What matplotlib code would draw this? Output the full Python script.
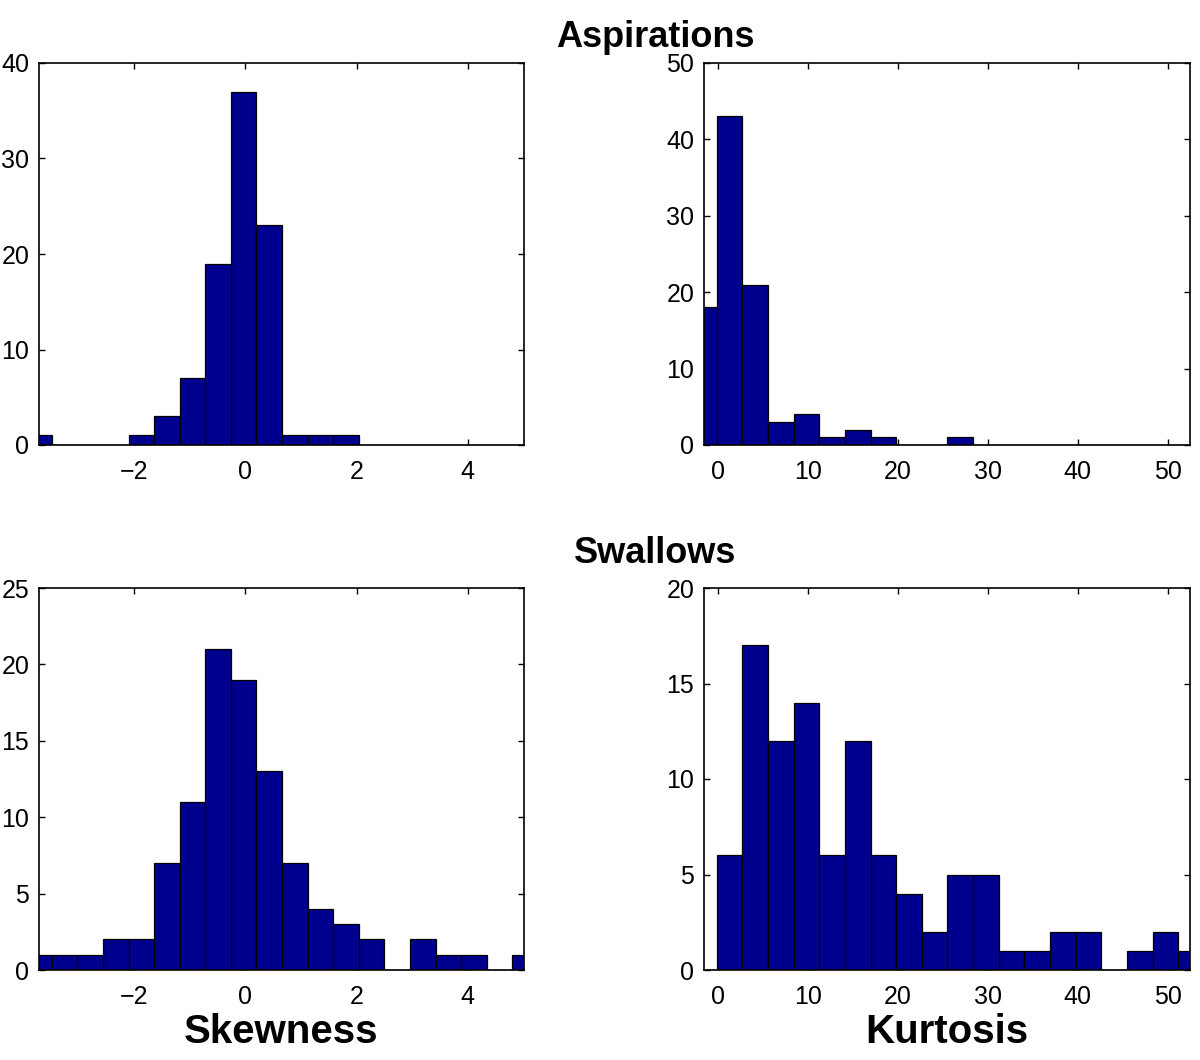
import numpy as np
import matplotlib
matplotlib.use("Agg")
import matplotlib.pyplot as plt

plt.rcParams["font.family"] = ["Liberation Sans", "DejaVu Sans"]

# bin edges (20 bins each)
skew_edges = [-3.94, -3.48, -3.02, -2.56, -2.10, -1.64, -1.18, -0.72, -0.26, 0.20,
              0.66, 1.12, 1.58, 2.04, 2.50, 2.96, 3.42, 3.88, 4.34, 4.80, 5.26]
kurt_edges = [-2.98, -0.13, 2.72, 5.57, 8.42, 11.27, 14.12, 16.97, 19.82, 22.67,
              25.52, 28.37, 31.22, 34.07, 36.92, 39.77, 42.62, 45.47, 48.32, 51.17, 54.02]

# counts per bin
asp_skew = [1, 0, 0, 0, 1, 3, 7, 19, 37, 23, 1, 1, 1, 0, 0, 0, 0, 0, 0, 0]
asp_kurt = [18, 43, 21, 3, 4, 1, 2, 1, 0, 0, 1, 0, 0, 0, 0, 0, 0, 0, 0, 0]
swa_skew = [1, 1, 1, 2, 2, 7, 11, 21, 19, 13, 7, 4, 3, 2, 0, 2, 1, 1, 0, 1]
swa_kurt = [0, 6, 17, 12, 14, 6, 12, 6, 4, 2, 5, 5, 1, 1, 2, 2, 0, 1, 2, 1]

skew_xlim = (-3.71, 5.01)
kurt_xlim = (-1.53, 52.47)
skew_xticks = [-2, 0, 2, 4]
kurt_xticks = [0, 10, 20, 30, 40, 50]

BAR = "#00008F"
W, H = 1200, 1060

fig = plt.figure(figsize=(12, 10.6), dpi=100)


def make_axes(x0, x1, y_top, y_bot):
    return fig.add_axes([x0 / W, 1 - y_bot / H, (x1 - x0) / W, (y_bot - y_top) / H])


def draw_hist(ax, edges, counts, xlim, xticks, ymax, ystep):
    edges = np.asarray(edges)
    ax.bar(edges[:-1], counts, width=np.diff(edges), align="edge",
           color=BAR, edgecolor="black", linewidth=0.9, zorder=2)
    ax.set_xlim(*xlim)
    ax.set_ylim(0, ymax)
    ax.set_xticks(xticks)
    ax.set_yticks(np.arange(0, ymax + 1, ystep))
    ax.tick_params(direction="in", top=True, right=True, length=4, width=1,
                   labelsize=18)
    ax.tick_params(axis="x", pad=11)
    ax.tick_params(axis="y", pad=7)
    for s in ax.spines.values():
        s.set_linewidth(1.2)
        s.set_zorder(3)


ax1 = make_axes(39, 524, 63, 445)
ax2 = make_axes(704, 1190, 63, 445)
ax3 = make_axes(39, 524, 588, 970)
ax4 = make_axes(704, 1190, 588, 970)

draw_hist(ax1, skew_edges, asp_skew, skew_xlim, skew_xticks, 40, 10)
draw_hist(ax2, kurt_edges, asp_kurt, kurt_xlim, kurt_xticks, 50, 10)
draw_hist(ax3, skew_edges, swa_skew, skew_xlim, skew_xticks, 25, 5)
draw_hist(ax4, kurt_edges, swa_kurt, kurt_xlim, kurt_xticks, 20, 5)

fig.text(655 / W, 1 - 47 / H, "Aspirations", ha="center", va="baseline",
         fontsize=26, fontweight="bold")
fig.text(655 / W, 1 - 563 / H, "Swallows", ha="center", va="baseline",
         fontsize=26, fontweight="bold")
fig.text(281 / W, 1 - 1043 / H, "Skewness", ha="center", va="baseline",
         fontsize=29, fontweight="bold")
fig.text(947 / W, 1 - 1043 / H, "Kurtosis", ha="center", va="baseline",
         fontsize=29, fontweight="bold")

fig.savefig("out.png", dpi=100)
